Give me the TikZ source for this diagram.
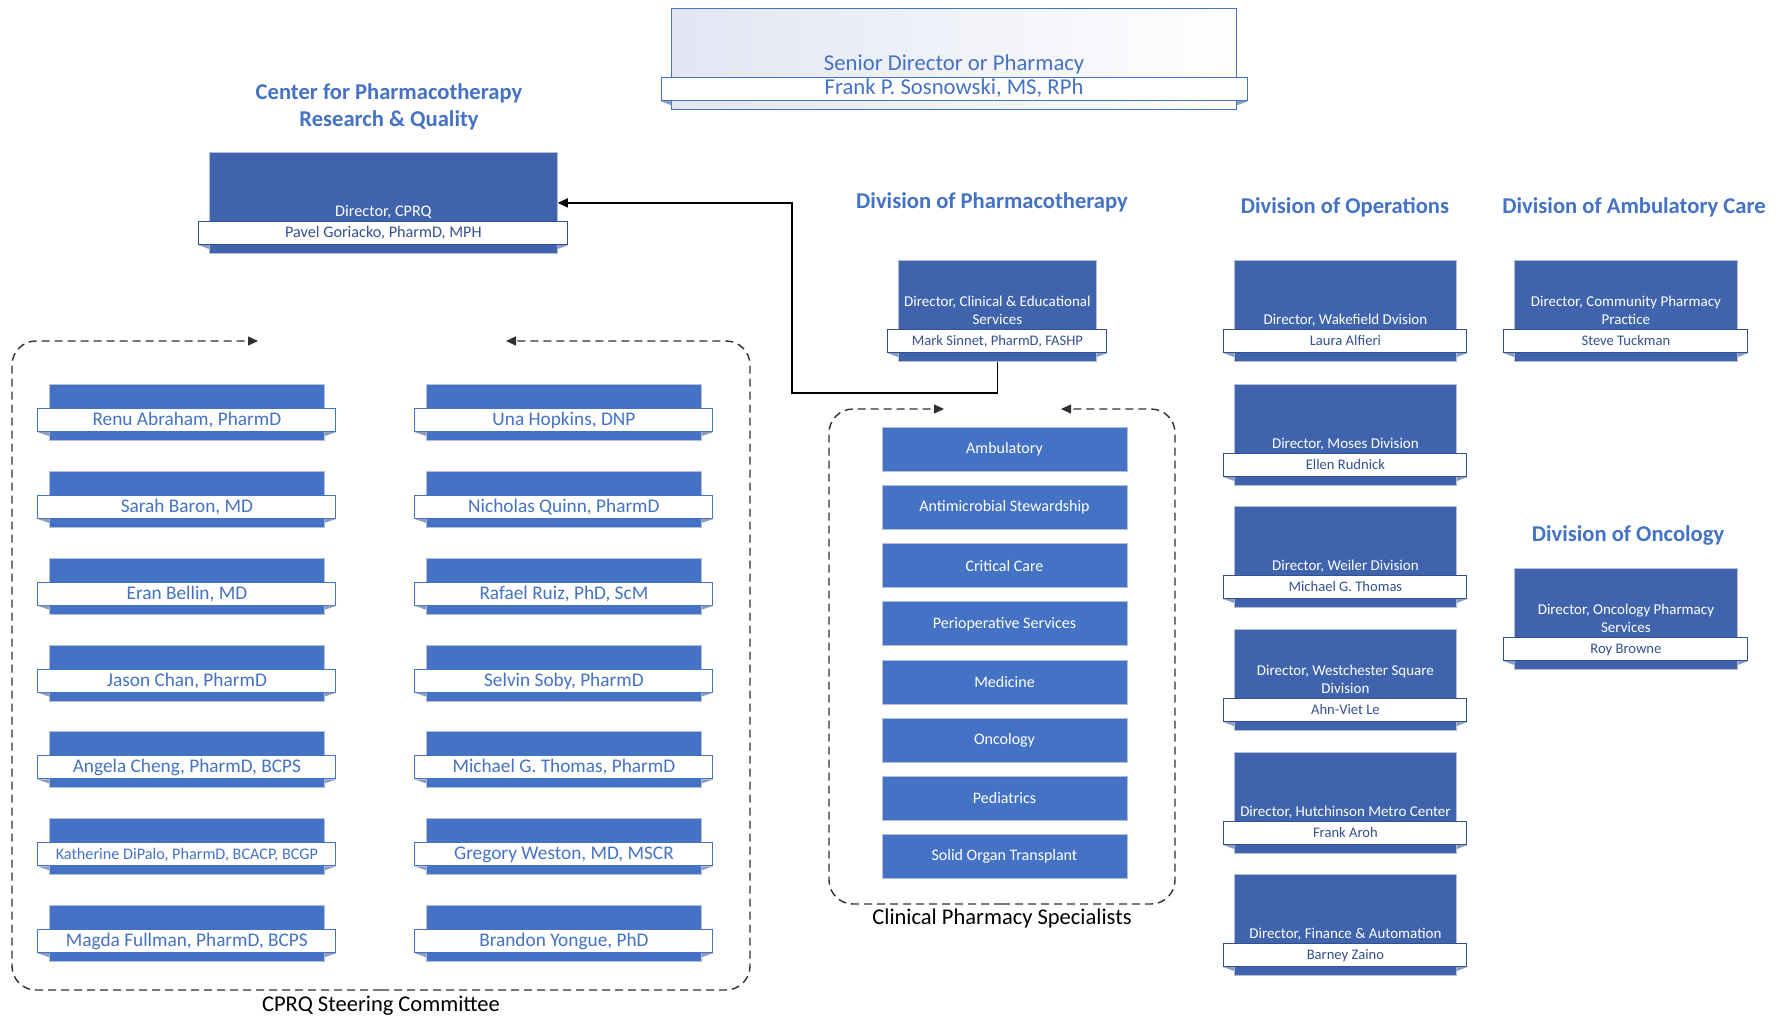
\documentclass[tikz,border=0pt]{standalone}
\usepackage{fontspec}
\setmainfont{Carlito}
\usetikzlibrary{calc,arrows.meta}
\definecolor{dirfill}{HTML}{3F64AD}
\definecolor{memfill}{HTML}{4472C4}
\definecolor{boxline}{HTML}{B4BED6}
\definecolor{dirrib}{HTML}{2F528F}
\definecolor{dirname}{HTML}{34508F}
\definecolor{fold}{HTML}{8C9BC0}
\definecolor{titleblue}{HTML}{4472C4}
\definecolor{topfill}{HTML}{E2E6F3}
\definecolor{dashcol}{HTML}{303030}
\tikzset{
  x=1pt, y=-1pt,
  dirbody/.style={draw=boxline, line width=0.8, fill=dirfill, inner sep=0, anchor=north west},
  dirrib/.style={draw=dirrib, line width=1, fill=white, inner sep=0, minimum height=23,
    text=dirname, font=\fontsize{14.6}{18}\selectfont, text height=11, text depth=2},
  dirtitle/.style={inner sep=0, text=white, align=center, text depth=0pt,
    font=\fontsize{15}{18}\selectfont},
  bigdir/.style={font=\fontsize{16.2}{19}\selectfont},
  topbody/.style={draw=titleblue, line width=1.2, left color=topfill, right color=white,
    inner sep=0, anchor=north west},
  toprib/.style={draw=titleblue, line width=1.2, fill=white, inner sep=0, minimum height=23,
    text=titleblue, font=\fontsize{22.7}{26}\selectfont, text height=14.5, text depth=4.5},
  toptitle/.style={inner sep=0, text=titleblue, align=center, text depth=0pt,
    font=\fontsize{22.7}{26}\selectfont, yshift=2},
  membody/.style={draw=boxline, line width=0.8, fill=memfill, inner sep=0, anchor=north west},
  memrib/.style={draw=memfill, line width=1, fill=white, inner sep=0, minimum height=23,
    text=memfill, text height=13.5, text depth=2.5},
  memfont/.style={font=\fontsize{19.3}{22}\selectfont},
  smallfont/.style={font=\fontsize{16.2}{19}\selectfont},
  foldtri/.style={fill=fold},
  specbox/.style={draw=boxline, line width=0.8, fill=memfill, inner sep=0,
    minimum width=245, minimum height=44, text=white, font=\fontsize{16}{19}\selectfont},
  divtitle/.style={text=titleblue, font=\fontsize{22.6}{27}\selectfont\bfseries, align=center, inner sep=0},
  caption/.style={text=black, font=\fontsize{22.5}{26}\selectfont, inner sep=0},
  dashline/.style={draw=dashcol, line width=1.4, dash pattern=on 8 off 5, rounded corners=24,
    -{Triangle[length=10,width=9]}},
  link/.style={draw=black, line width=1.4, -{Triangle[length=10,width=9]}},
}
% #1 kind, #2 name, #3 left, #4 top, #5 width, #6 title, #7 person, #8 extra style
\newcommand\orgunit[8]{%
  \node[#1body, minimum width=#5, minimum height=101] (#2) at (#3,#4) {};
  \node[#1rib, #8, minimum width=#5+21, anchor=north] (#2r) at ($(#2.north)+(0,69)$) {#7};
  \fill[foldtri] (#2r.south west) -- (#2r.south west -| #2.west) -- ++(0,4) -- cycle;
  \fill[foldtri] (#2r.south east) -- (#2r.south east -| #2.east) -- ++(0,4) -- cycle;
  \node[#1title, #8, anchor=south] (#2t) at ($(#2r.north)+(0,-4)$) {#6};
}
% #1 name, #2 left, #3 top, #4 font style, #5 person
\newcommand\memunit[5]{%
  \node[membody, minimum width=275, minimum height=56] (#1) at (#2,#3) {};
  \node[memrib, #4, minimum width=298, anchor=north] (#1r) at ($(#1.north)+(0,24)$) {#5};
  \fill[foldtri] (#1r.south west) -- (#1r.south west -| #1.west) -- ++(0,4) -- cycle;
  \fill[foldtri] (#1r.south east) -- (#1r.south east -| #1.east) -- ++(0,4) -- cycle;
}
\begin{document}
\begin{tikzpicture}
\useasboundingbox[fill=white] (0,0) rectangle (1780,1018);

% top
\orgunit{top}{senior}{671}{8}{565}{Senior Director or Pharmacy}{Frank P. Sosnowski, MS, RPh}{}

% titles
\node[divtitle] (tcprq) at (389,106.5) {Center for Pharmacotherapy\\Research \& Quality};
\node[divtitle] (tpharm) at (992,202.5) {Division of Pharmacotherapy};
\node[divtitle] (tops) at (1345,207.5) {Division of Operations};
\node[divtitle] (tamb) at (1634,207.5) {Division of Ambulatory Care};
\node[divtitle] (tonc) at (1628,535.5) {Division of Oncology};

% directors
\orgunit{dir}{cprq}{209}{152}{348}{Director, CPRQ}{Pavel Goriacko, PharmD, MPH}{bigdir}
\orgunit{dir}{ms}{898}{260}{198}{Director, Clinical \& Educational\\Services}{Mark Sinnet, PharmD, FASHP}{}
\orgunit{dir}{wake}{1234}{260}{222}{Director, Wakefield Dvision}{Laura Alfieri}{}
\orgunit{dir}{moses}{1234}{384}{222}{Director, Moses Division}{Ellen Rudnick}{}
\orgunit{dir}{weiler}{1234}{506}{222}{Director, Weiler Division}{Michael G. Thomas}{}
\orgunit{dir}{west}{1234}{629}{222}{Director, Westchester Square\\Division}{Ahn-Viet Le}{}
\orgunit{dir}{hutch}{1234}{752}{222}{Director, Hutchinson Metro Center}{Frank Aroh}{}
\orgunit{dir}{fin}{1234}{874}{222}{Director, Finance \& Automation}{Barney Zaino}{}
\orgunit{dir}{comm}{1514}{260}{223}{Director, Community Pharmacy\\Practice}{Steve Tuckman}{}
\orgunit{dir}{onc}{1514}{568}{223}{Director, Oncology Pharmacy\\Services}{Roy Browne}{}

% link
\coordinate (bend) at (792,393);
\draw[link] (ms.south) |- (bend) |- (cprq.east);

% steering committee
\memunit{m1}{49}{384}{memfont}{Renu Abraham, PharmD}
\memunit{m2}{49}{470.85}{memfont}{Sarah Baron, MD}
\memunit{m3}{49}{557.7}{memfont}{Eran Bellin, MD}
\memunit{m4}{49}{644.55}{memfont}{Jason Chan, PharmD}
\memunit{m5}{49}{731.4}{memfont}{Angela Cheng, PharmD, BCPS}
\memunit{m6}{49}{818.25}{smallfont}{Katherine DiPalo, PharmD, BCACP, BCGP}
\memunit{m7}{49}{905.1}{memfont}{Magda Fullman, PharmD, BCPS}
\memunit{n1}{426}{384}{memfont}{Una Hopkins, DNP}
\memunit{n2}{426}{470.85}{memfont}{Nicholas Quinn, PharmD}
\memunit{n3}{426}{557.7}{memfont}{Rafael Ruiz, PhD, ScM}
\memunit{n4}{426}{644.55}{memfont}{Selvin Soby, PharmD}
\memunit{n5}{426}{731.4}{memfont}{Michael G. Thomas, PharmD}
\memunit{n6}{426}{818.25}{memfont}{Gregory Weston, MD, MSCR}
\memunit{n7}{426}{905.1}{memfont}{Brandon Yongue, PhD}

\coordinate (cbot) at (381,990);
\coordinate (cl) at (12,341);
\coordinate (cr) at (750,341);
\coordinate (cla) at (258,341);
\coordinate (cra) at (506,341);
\draw[dashline] (cbot) -| (cl) -- (cla);
\draw[dashline] (cbot) -| (cr) -- (cra);
\node[caption] (ccap) at (381,1006) {CPRQ Steering Committee};

% clinical pharmacy specialists
\node[specbox] (s1) at (1004.5,449.5) {Ambulatory};
\node[specbox] (s2) at (1004.5,507.6) {Antimicrobial Stewardship};
\node[specbox] (s3) at (1004.5,565.7) {Critical Care};
\node[specbox] (s4) at (1004.5,623.8) {Perioperative Services};
\node[specbox] (s5) at (1004.5,681.9) {Medicine};
\node[specbox] (s6) at (1004.5,740.0) {Oncology};
\node[specbox] (s7) at (1004.5,798.1) {Pediatrics};
\node[specbox] (s8) at (1004.5,856.2) {Solid Organ Transplant};

\coordinate (pbot) at (1002,904);
\coordinate (pl) at (829,409);
\coordinate (pr) at (1175,409);
\coordinate (pla) at (944,409);
\coordinate (pra) at (1061,409);
\draw[dashline] (pbot) -| (pl) -- (pla);
\draw[dashline] (pbot) -| (pr) -- (pra);
\node[caption] (pcap) at (1002,918) {Clinical Pharmacy Specialists};
\end{tikzpicture}
\end{document}
